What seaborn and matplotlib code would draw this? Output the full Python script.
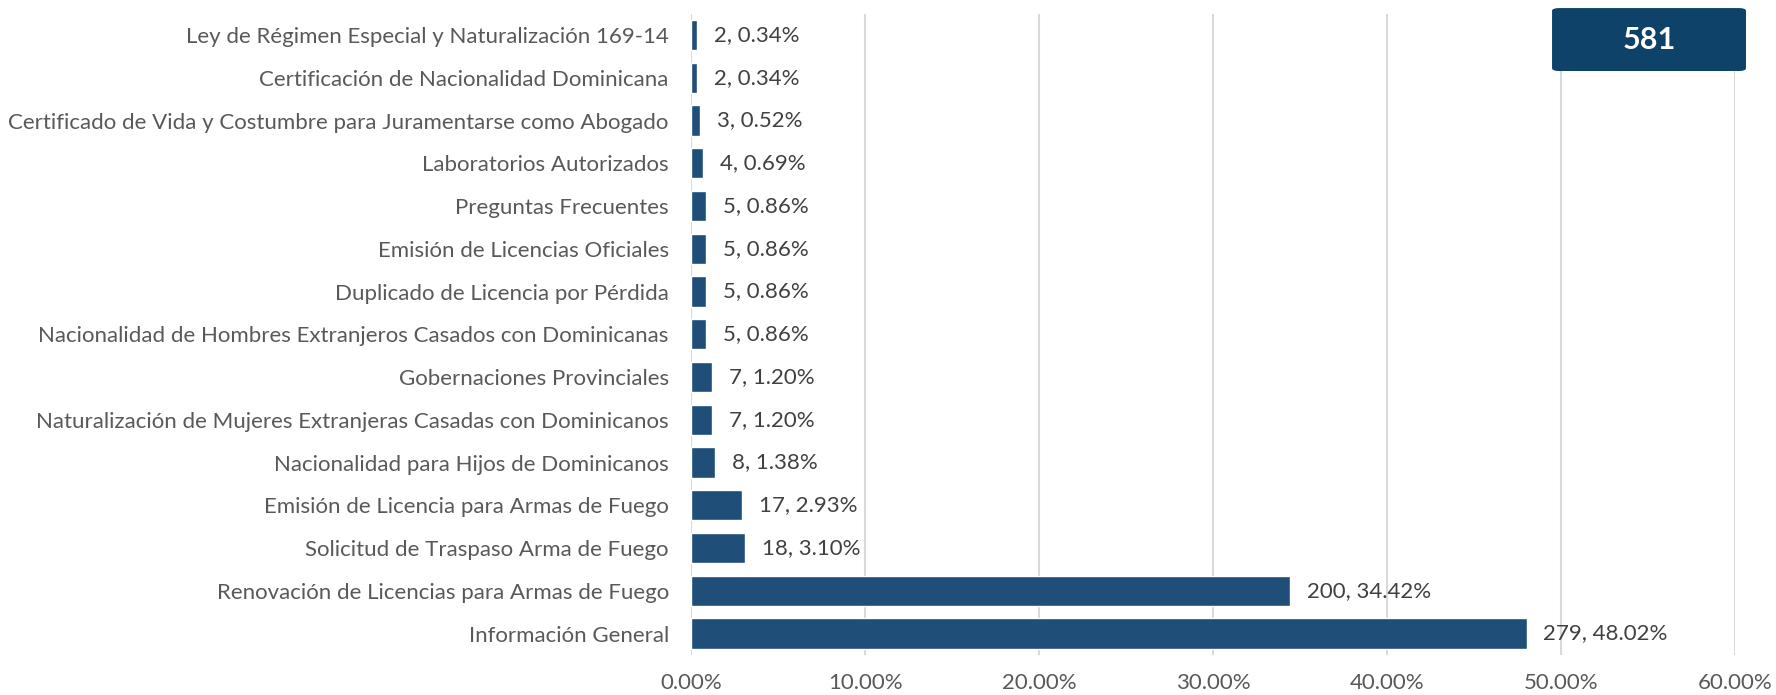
import pandas as pd
import matplotlib.pyplot as plt
import seaborn as sns
from matplotlib.ticker import PercentFormatter
from matplotlib.patches import FancyBboxPatch

# datos del gráfico (de arriba hacia abajo)
categorias = [
    "Ley de Régimen Especial y Naturalización 169-14",
    "Certificación de Nacionalidad Dominicana",
    "Certificado de Vida y Costumbre para Juramentarse como Abogado",
    "Laboratorios Autorizados",
    "Preguntas Frecuentes",
    "Emisión de Licencias Oficiales",
    "Duplicado de Licencia por Pérdida",
    "Nacionalidad de Hombres Extranjeros Casados con Dominicanas",
    "Gobernaciones Provinciales",
    "Naturalización de Mujeres Extranjeras Casadas con Dominicanos",
    "Nacionalidad para Hijos de Dominicanos",
    "Emisión de Licencia para Armas de Fuego",
    "Solicitud de Traspaso Arma de Fuego",
    "Renovación de Licencias para Armas de Fuego",
    "Información General",
]
cantidades = [2, 2, 3, 4, 5, 5, 5, 5, 7, 7, 8, 17, 18, 200, 279]
total = 581

df = pd.DataFrame({"categoria": categorias, "cantidad": cantidades})
df["pct"] = df["cantidad"] / total

sns.set_style("white")
plt.rcParams['font.family'] = ['Lato', 'DejaVu Sans']

fig = plt.figure(figsize=(17.76, 6.95), dpi=100)
ax = fig.add_axes([0.3891, 0.0576, 0.5878, 0.9228])

sns.barplot(data=df, x="pct", y="categoria", color="#1F4E79", saturation=1,
            width=0.71, ax=ax, zorder=3)

ax.set_xlim(0, 0.6)
ax.set_ylim(14.5, -0.5)
ax.set_xticks([0, 0.1, 0.2, 0.3, 0.4, 0.5, 0.6])
ax.xaxis.set_major_formatter(PercentFormatter(xmax=1, decimals=2))
ax.grid(axis="x", color="#D9D9D9", linewidth=1.5, zorder=0)
ax.set_axisbelow(True)
for s in ax.spines.values():
    s.set_visible(False)
ax.tick_params(axis="both", length=0, labelsize=16, labelcolor="#595959")
ax.tick_params(axis="y", pad=16)
ax.tick_params(axis="x", pad=13)
ax.set_xlabel("")
ax.set_ylabel("")

# etiquetas de datos
for i, (c, p) in enumerate(zip(df["cantidad"], df["pct"])):
    ax.annotate(f"{c}, {p * 100:.2f}%", xy=(p, i), xytext=(12, 0),
                textcoords="offset points", va="center", ha="left",
                fontsize=16, color="#404040")

# recuadro del total
caja = FancyBboxPatch((0.8739, 0.8978), 0.1092, 0.0906,
                      boxstyle="round,pad=0,rounding_size=0.004",
                      transform=fig.transFigure, facecolor="#0F4268",
                      edgecolor="none", zorder=10)
fig.patches.append(caja)
fig.text(0.8739 + 0.1092 / 2, 0.8978 + 0.0906 / 2, str(total), ha="center",
         va="center", fontsize=22, fontweight="bold", color="white", zorder=11)

fig.savefig("out.png", dpi=100)
